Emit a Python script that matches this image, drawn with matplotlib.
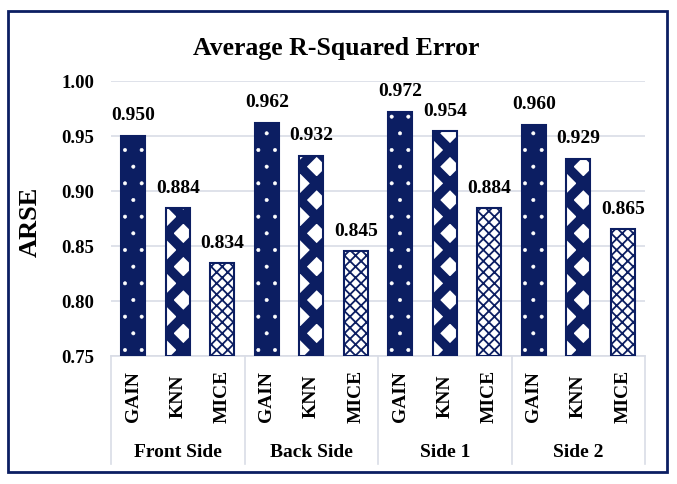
import matplotlib
matplotlib.use("Agg")
import matplotlib.pyplot as plt
from matplotlib.patches import Rectangle
from matplotlib.transforms import blended_transform_factory

groups = ["Front Side", "Back Side", "Side 1", "Side 2"]
methods = ["GAIN", "KNN", "MICE"]
values = {
    "GAIN": [0.950, 0.962, 0.972, 0.960],
    "KNN": [0.884, 0.932, 0.954, 0.929],
    "MICE": [0.834, 0.845, 0.884, 0.865],
}
yticks = [0.75, 0.80, 0.85, 0.90, 0.95, 1.00]

NAVY = "#0c1e62"
GRID = "#d9dde6"
FONT = "Liberation Serif"

W, H = 677, 485
fig = plt.figure(figsize=(W / 100, H / 100), dpi=100)
fig.patch.set_facecolor("white")

left, right, top, bottom = 111, 645, 81.7, 356.7
ax = fig.add_axes([left / W, (H - bottom) / H, (right - left) / W, (bottom - top) / H])

ax.set_ylim(yticks[0], yticks[-1])
ax.set_xlim(-0.5, len(groups) * len(methods) - 0.5)
ax.set_yticks(yticks)
ax.set_yticklabels([f"{t:.2f}" for t in yticks], fontfamily=FONT, fontweight="bold", fontsize=13.5)
ax.tick_params(axis="y", length=0, pad=12)
ax.set_xticks([])
for s in ["left", "right", "top"]:
    ax.spines[s].set_visible(False)
ax.spines["bottom"].set_color(GRID)
ax.spines["bottom"].set_linewidth(1.2)
ax.yaxis.grid(True, color=GRID, linewidth=1.2)
ax.set_axisbelow(True)

styles = {
    "GAIN": dict(face=NAVY, hcol="white", hatch=".", hlw=0.4),
    "KNN": dict(face="white", hcol=NAVY, hatch="x", hlw=7.0),
    "MICE": dict(face="white", hcol=NAVY, hatch="xxx", hlw=1.3),
}

width = 0.54
base = yticks[0]
for gi, g in enumerate(groups):
    for mi, m in enumerate(methods):
        x = gi * len(methods) + mi
        v = values[m][gi]
        st = styles[m]
        b = ax.bar(x, v - base, bottom=base, width=width, color=st["face"],
                   edgecolor=st["hcol"], hatch=st["hatch"], linewidth=0, zorder=2)
        for p in b.patches:
            if hasattr(p, "set_hatch_linewidth"):
                p.set_hatch_linewidth(st["hlw"])
        ax.bar(x, v - base, bottom=base, width=width, fill=False,
               edgecolor=NAVY, linewidth=1.5, zorder=3)
        ax.annotate(f"{v:.3f}", (x, v), xytext=(0, 9), textcoords="offset points",
                    ha="center", va="bottom", fontfamily=FONT, fontweight="bold",
                    fontsize=14, color="black")
        ax.text(x, -0.145, m, transform=blended_transform_factory(ax.transData, ax.transAxes),
                rotation=90, ha="center", va="center", fontfamily=FONT,
                fontweight="bold", fontsize=14)
    ax.text(gi * len(methods) + 1, -0.35, g,
            transform=blended_transform_factory(ax.transData, ax.transAxes),
            ha="center", va="center", fontfamily=FONT, fontweight="bold", fontsize=14)

trans = blended_transform_factory(ax.transData, ax.transAxes)
for k in range(len(groups) + 1):
    xb = k * len(methods) - 0.5
    ax.plot([xb, xb], [0, -0.394], transform=trans, color=GRID, linewidth=1.2, clip_on=False)

ax.set_ylabel("ARSE", fontfamily=FONT, fontweight="bold", fontsize=19)
ax.yaxis.set_label_coords((42 - left) / (right - left), 0.49)

fig.text(336 / W, (H - 48) / H, "Average R-Squared Error", ha="center", va="center",
         fontfamily=FONT, fontweight="bold", fontsize=18.5)

fig.patches.append(Rectangle((7.5 / W, (H - 473) / H), (667 - 7.5) / W, (473 - 12) / H,
                             transform=fig.transFigure, fill=False, edgecolor=NAVY,
                             linewidth=2, zorder=10))

fig.savefig("out.png", dpi=100)
